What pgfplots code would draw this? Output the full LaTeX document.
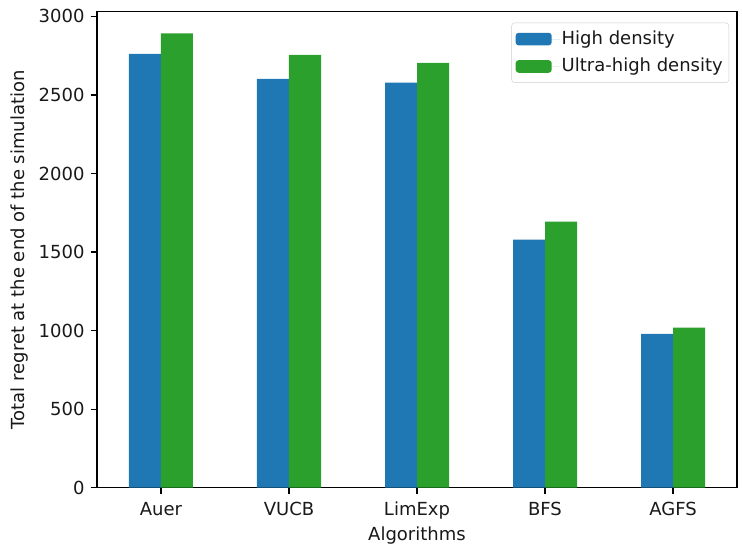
\documentclass[border=0pt]{standalone}
\usepackage{pgfplots}
\pgfplotsset{compat=1.18}
\usepackage{fontspec}
\setmainfont{DejaVu Sans}
\definecolor{mblue}{HTML}{1F77B4}
\definecolor{mgreen}{HTML}{2CA02C}
\begin{document}
\fontsize{18}{21.6}\selectfont
\begin{tikzpicture}
\begin{axis}[
  name=ax,
  width=640pt, height=476pt, scale only axis,
  xmin=-0.5, xmax=4.5, ymin=0, ymax=3030,
  xtick={0,1,2,3,4},
  xticklabels={Auer,VUCB,LimExp,BFS,AGFS},
  ytick={0,500,1000,1500,2000,2500,3000},
  /pgf/number format/assume math mode=true,
  /pgf/number format/1000 sep={},
  tick label style={font=\fontsize{18}{21.6}\selectfont, text=black!90},
  label style={font=\fontsize{18}{21.6}\selectfont, text=black!90},
  xlabel={Algorithms},
  ylabel={Total regret at the end of the simulation},
  xlabel style={yshift=5pt},
  ylabel style={yshift=-2pt},
  xticklabel style={yshift=-2pt},
  tick align=outside,
  tick pos=left,
  major tick length=6.3pt,
  every tick/.style={black, line width=1.2pt},
  axis line style={black, line width=1.2pt},
  legend style={at={(1,1)}, anchor=north east, xshift=-8pt, yshift=-11pt,
     draw=black!20, rounded corners=3pt, fill=white,
     font=\fontsize{18}{21.6}\selectfont, text=black!90,
     row sep=7pt, inner xsep=4pt, inner ysep=6pt},
  legend cell align=left,
  legend image code/.code={\fill[#1] (0pt,-6.3pt) rectangle (36pt,6.3pt); \path (0pt,0pt) -- (44pt,0pt);},
]
\addplot[ybar, bar width=0.25, bar shift=-0.125, fill=mblue, draw=none]
  coordinates {(0,2761) (1,2602) (2,2579) (3,1579) (4,979)};
\addlegendentry{High density}
\addplot[ybar, bar width=0.25, bar shift=0.125, fill=mgreen, draw=none]
  coordinates {(0,2892) (1,2755) (2,2704) (3,1693) (4,1019)};
\addlegendentry{Ultra-high density}
\end{axis}
\path ([xshift=-97pt,yshift=-58pt]ax.south west) rectangle ([xshift=5pt,yshift=11.7pt]ax.north east);
\end{tikzpicture}
\end{document}
